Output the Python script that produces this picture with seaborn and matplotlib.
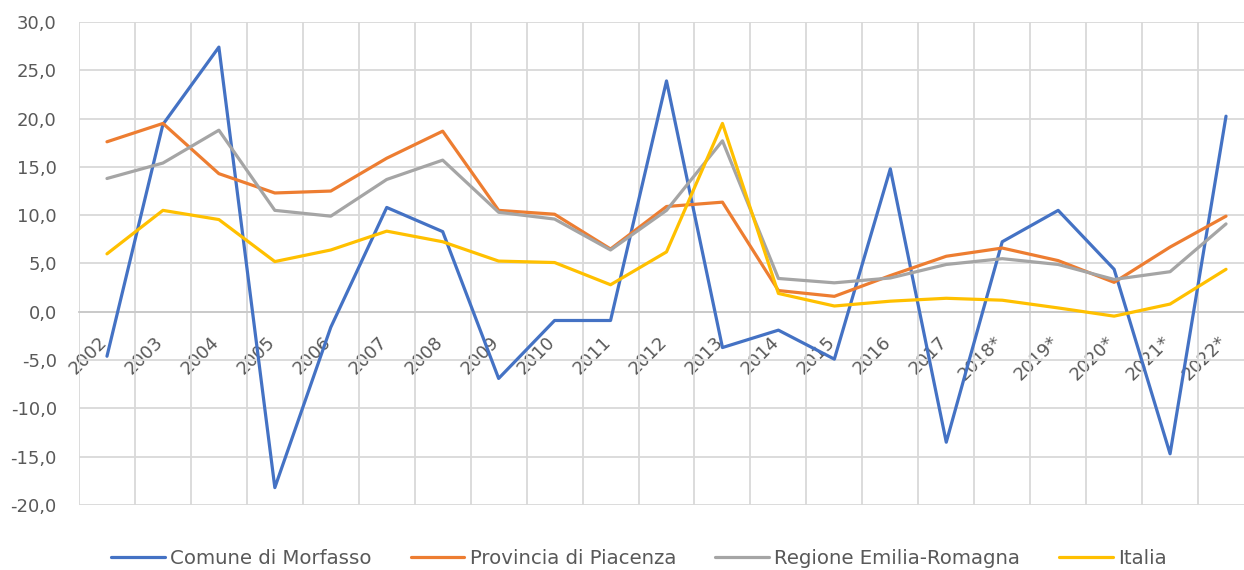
import matplotlib
matplotlib.use("Agg")
import matplotlib.pyplot as plt
import matplotlib.transforms as mtransforms
import seaborn as sns
import pandas as pd
import numpy as np

# -------------------- Data --------------------
anni = ["2002", "2003", "2004", "2005", "2006", "2007", "2008", "2009", "2010",
        "2011", "2012", "2013", "2014", "2015", "2016", "2017", "2018*", "2019*",
        "2020*", "2021*", "2022*"]

morfasso = [-4.6, 19.4, 27.4, -18.2, -1.6, 10.8, 8.3, -6.9, -0.9, -0.9, 23.9,
            -3.7, -1.9, -4.9, 14.8, -13.5, 7.25, 10.5, 4.4, -14.7, 20.25]
piacenza = [17.6, 19.5, 14.3, 12.3, 12.5, 15.9, 18.7, 10.5, 10.1, 6.5, 10.9,
            11.35, 2.2, 1.6, 3.75, 5.75, 6.6, 5.3, 3.05, 6.7, 9.9]
emilia = [13.8, 15.4, 18.8, 10.5, 9.9, 13.7, 15.7, 10.3, 9.6, 6.4, 10.5,
          17.7, 3.45, 3.0, 3.5, 4.9, 5.5, 4.9, 3.35, 4.15, 9.1]
italia = [6.0, 10.5, 9.55, 5.2, 6.4, 8.35, 7.25, 5.25, 5.1, 2.8, 6.2,
          19.5, 1.9, 0.6, 1.1, 1.4, 1.2, 0.4, -0.45, 0.8, 4.4]

serie = ["Comune di Morfasso", "Provincia di Piacenza",
         "Regione Emilia-Romagna", "Italia"]
colori = ["#4472C4", "#ED7D31", "#A5A5A5", "#FFC000"]

df = pd.concat([
    pd.DataFrame({"pos": range(len(anni)), "valore": vals, "serie": nome})
    for nome, vals in zip(serie, [morfasso, piacenza, emilia, italia])
])

# -------------------- Plot --------------------
sns.set_theme(style="white")
plt.rcParams["font.family"] = ["DejaVu Sans"]

fig = plt.figure(figsize=(12.44, 5.70), dpi=100)
ax = fig.add_axes([79 / 1244, 65 / 570, 1175 / 1244, 483 / 570])

sns.lineplot(data=df, x="pos", y="valore", hue="serie", hue_order=serie,
             palette=colori, linewidth=2.3, ax=ax, legend=False, zorder=3)

ax.set_xlim(-0.5, len(anni) - 0.5)
ax.set_ylim(-20, 30)
ax.set_yticks(np.arange(-20, 31, 5))
ax.set_yticklabels([f"{v:.1f}".replace(".", ",") for v in np.arange(-20, 31, 5)])
ax.set_xticks(range(len(anni)))
ax.set_xticks(np.arange(-0.5, len(anni), 1), minor=True)

ax.grid(which="major", axis="y", color="#D9D9D9", linewidth=1.3)
ax.grid(which="minor", axis="x", color="#D9D9D9", linewidth=1.3)
ax.set_axisbelow(True)

for s in ["top", "right", "left"]:
    ax.spines[s].set_visible(False)
ax.spines["bottom"].set_position(("data", 0))
ax.spines["bottom"].set_color("#C9C9C9")
ax.spines["bottom"].set_linewidth(1.3)
ax.spines["bottom"].set_zorder(2)

ax.tick_params(axis="y", which="both", length=0, pad=16, labelsize=13,
               labelcolor="#595959")
ax.tick_params(axis="x", which="both", length=0, pad=15, labelsize=13,
               labelcolor="#595959")
ax.set_xticklabels(anni, rotation=45, ha="right", va="top")
shift = mtransforms.ScaledTranslation(4 / 100, 0, fig.dpi_scale_trans)
for lab in ax.get_xticklabels():
    lab.set_transform(lab.get_transform() + shift)
ax.set_xlabel("")
ax.set_ylabel("")

handles = [plt.Line2D([], [], color=c, linewidth=2.3) for c in colori]
fig.legend(handles, serie, loc="center", bbox_to_anchor=(639 / 1244, 12 / 570),
           ncol=4, frameon=False, fontsize=14.2, handlelength=2.7,
           handletextpad=0.27, columnspacing=2.0, labelcolor="#595959")

fig.savefig("out.png", dpi=100)
